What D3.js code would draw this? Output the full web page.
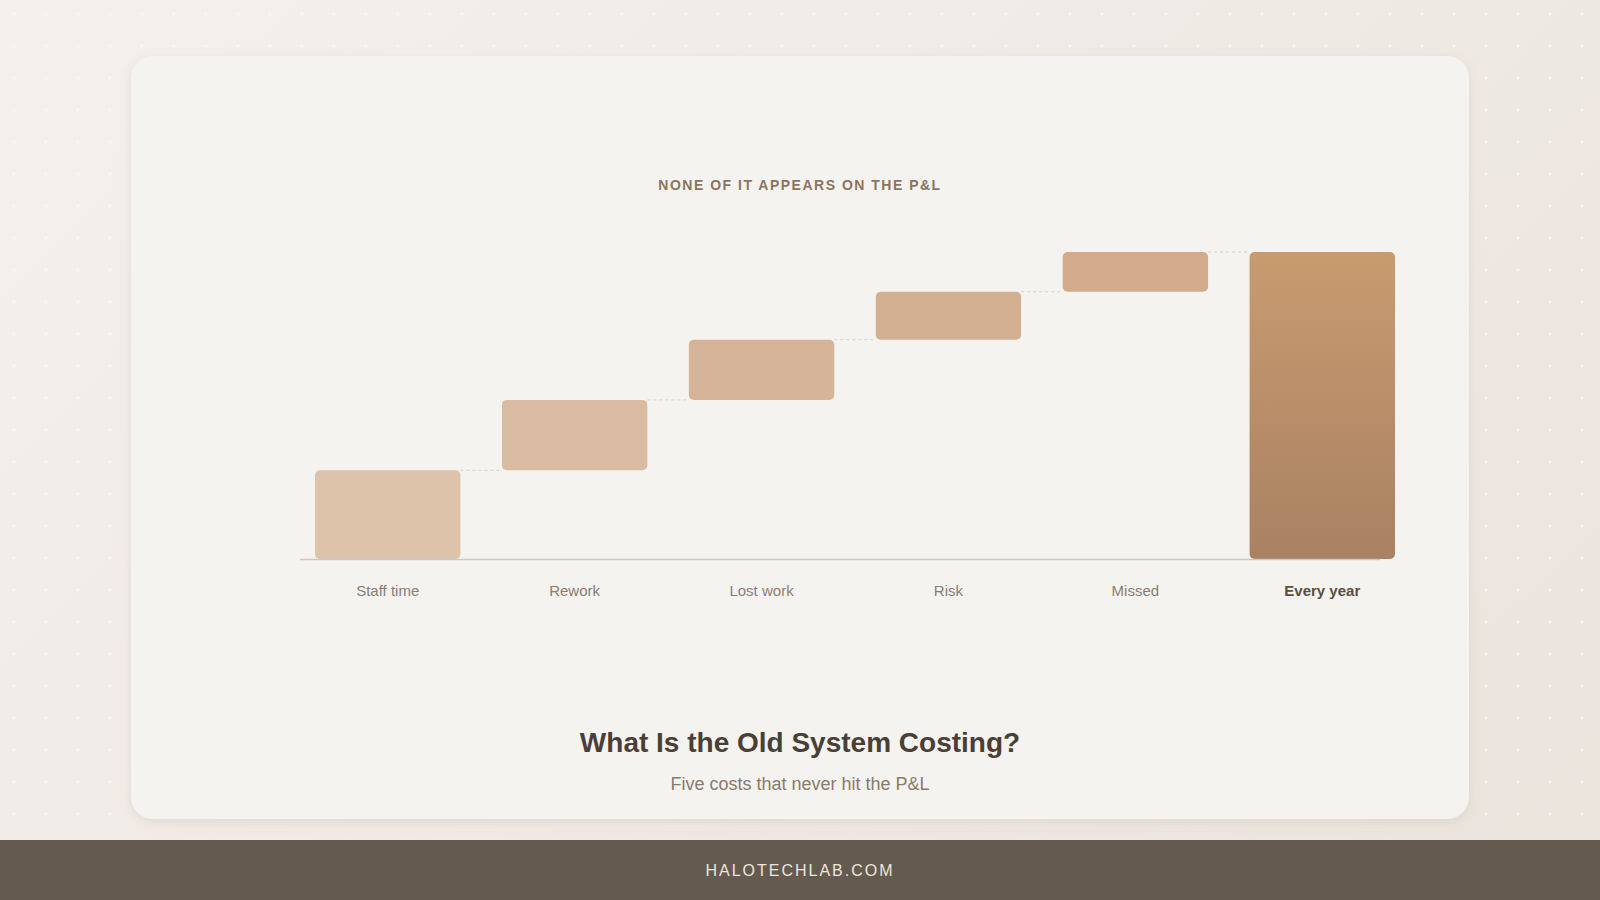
<!DOCTYPE html>
<html><head><meta charset="utf-8">
<script src="https://cdn.jsdelivr.net/npm/d3@7"></script>
<style>
html,body{margin:0;padding:0;width:1600px;height:900px;overflow:hidden;font-family:"Liberation Sans",Arial,sans-serif;}
body{background:linear-gradient(135deg,#f4f0ec,#ebe4dd);}
</style></head>
<body>
<svg id="c" width="1600" height="900"></svg>
<script>
const categories = ["Staff time","Rework","Lost work","Risk","Missed","Every year"];
const values = [8.7, 6.9, 5.9, 4.7, 3.9];
const barColors = ["#dcc3a9","#d9bca1","#d6b499","#d4b093","#d2ac8d"];
const svg = d3.select("#c");
const defs = svg.append("defs");
const sh = defs.append("filter").attr("id","sh").attr("x","-10%").attr("y","-10%").attr("width","120%").attr("height","130%");
sh.append("feDropShadow").attr("dx",0).attr("dy",3).attr("stdDeviation",6).attr("flood-color","#8a7560").attr("flood-opacity",0.15);
const g1 = defs.append("linearGradient").attr("id","tot").attr("x1",0).attr("y1",0).attr("x2",0).attr("y2",1);
g1.append("stop").attr("offset","0%").attr("stop-color","#c99b6f");
g1.append("stop").attr("offset","100%").attr("stop-color","#a98263");
// dots
const dots = svg.append("g");
for(let x=14;x<1600;x+=32)for(let y=14;y<840;y+=32)dots.append("circle").attr("cx",x).attr("cy",y).attr("r",1.5).attr("fill","#fff").attr("opacity",0.5);
svg.append("rect").attr("x",131).attr("y",56).attr("width",1338).attr("height",763).attr("rx",22).attr("fill","#f5f3f0").attr("filter","url(#sh)");
svg.append("rect").attr("x",0).attr("y",840).attr("width",1600).attr("height",60).attr("fill","#645a50");
svg.append("text").attr("x",800).attr("y",876).attr("text-anchor","middle").attr("fill","#ede6de").attr("font-size",16).attr("letter-spacing",2).text("HALOTECHLAB.COM");
svg.append("text").attr("x",800).attr("y",190).attr("text-anchor","middle").attr("fill","#8a7560").attr("font-size",14).attr("font-weight","bold").attr("letter-spacing",1.5).text("NONE OF IT APPEARS ON THE P&L");
svg.append("text").attr("x",800).attr("y",752).attr("text-anchor","middle").attr("fill","#4a3f36").attr("font-size",28).attr("font-weight","bold").text("What Is the Old System Costing?");
svg.append("text").attr("x",800).attr("y",790).attr("text-anchor","middle").attr("fill","#8a7a6c").attr("font-size",18).text("Five costs that never hit the P&L");

const total = d3.sum(values);
const x = d3.scaleBand().domain(categories).range([315,1395]).paddingInner(0.222).paddingOuter(0.0);
const y = d3.scaleLinear().domain([0,total]).range([559,252]);
let cum=0;
const data = values.map((v,i)=>{const d={c:categories[i],s:cum,e:cum+v,col:barColors[i]};cum+=v;return d;});
data.push({c:categories[5],s:0,e:total,col:"url(#tot)"});
const g = svg.append("g");
// connectors
data.slice(0,5).forEach((d,i)=>{
  g.append("line").attr("x1",x(d.c)+x.bandwidth()).attr("x2",x(categories[i+1])).attr("y1",y(d.e)).attr("y2",y(d.e)).attr("stroke","#d8d0c8").attr("stroke-dasharray","3,3");
});
g.selectAll("rect.b").data(data).join("rect").attr("x",d=>x(d.c)).attr("width",x.bandwidth()).attr("y",d=>y(d.e)).attr("height",d=>y(d.s)-y(d.e)).attr("rx",5).attr("fill",d=>d.col);
g.append("line").attr("x1",300).attr("x2",1380).attr("y1",559.5).attr("y2",559.5).attr("stroke","#cfc8c1").attr("stroke-width",1.5);
g.selectAll("text.l").data(categories).join("text").attr("x",d=>x(d)+x.bandwidth()/2).attr("y",596).attr("text-anchor","middle").attr("font-size",15)
 .attr("fill",(d,i)=>i==5?"#5a4d42":"#8a7d70").attr("font-weight",(d,i)=>i==5?"bold":"normal").text(d=>d);
</script>
</body></html>
